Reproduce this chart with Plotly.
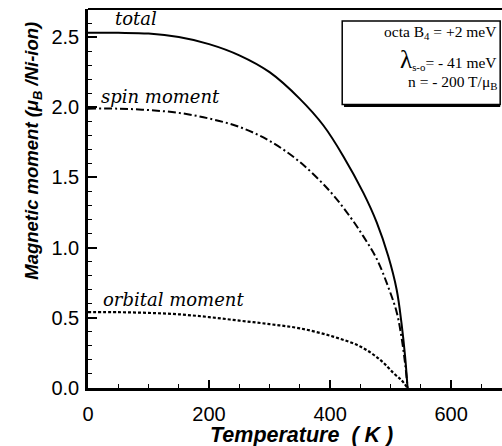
import plotly.graph_objects as go

# Data
T_total = [0, 50, 100, 150, 200, 250, 300, 350, 389, 422, 455, 477, 496, 510, 518, 524, 528]
M_total = [2.53, 2.53, 2.525, 2.50, 2.45, 2.37, 2.25, 2.06, 1.87, 1.65, 1.39, 1.18, 0.94, 0.70, 0.46, 0.22, 0.0]

T_spin = [0, 50, 100, 150, 200, 250, 300, 350, 400, 433, 455, 477, 496, 510, 518, 524, 528]
M_spin = [1.99, 1.99, 1.98, 1.96, 1.92, 1.86, 1.76, 1.61, 1.40, 1.22, 1.08, 0.92, 0.72, 0.54, 0.36, 0.17, 0.0]

T_orb = [0, 50, 100, 150, 200, 250, 300, 350, 405, 450, 483, 505, 518, 528]
M_orb = [0.54, 0.54, 0.535, 0.525, 0.505, 0.48, 0.455, 0.425, 0.366, 0.295, 0.20, 0.105, 0.055, 0.0]

x_ticks = [0, 200, 400, 600]
y_ticks = [0.0, 0.5, 1.0, 1.5, 2.0, 2.5]

fig = go.Figure()
fig.add_trace(go.Scatter(x=T_total, y=M_total, mode="lines",
                         line=dict(color="black", width=2, shape="spline"), showlegend=False))
fig.add_trace(go.Scatter(x=T_spin, y=M_spin, mode="lines",
                         line=dict(color="black", width=2, dash="8px,3px,2px,3px", shape="spline"), showlegend=False))
fig.add_trace(go.Scatter(x=T_orb, y=M_orb, mode="lines",
                         line=dict(color="black", width=2.2, dash="3px,2px", shape="spline"), showlegend=False))

tickfont = dict(family="Liberation Sans, Arial", size=20, color="black")
fig.update_xaxes(range=[0, 684], tickvals=x_ticks, ticktext=[str(v) for v in x_ticks],
                 ticks="inside", ticklen=8, tickwidth=1.5, tickcolor="black", ticklabelstandoff=6,
                 minor=dict(dtick=50, ticks="inside", ticklen=4, tickwidth=1, tickcolor="black"),
                 showline=True, linecolor="black", linewidth=2.5, mirror=False,
                 showgrid=False, zeroline=False, tickfont=tickfont)
fig.update_yaxes(range=[0, 2.7], tickvals=y_ticks, ticktext=["%.1f" % v for v in y_ticks],
                 ticks="inside", ticklen=9, tickwidth=1.5, tickcolor="black", ticklabelstandoff=2,
                 minor=dict(dtick=0.1, ticks="inside", ticklen=4, tickwidth=1, tickcolor="black"),
                 showline=True, linecolor="black", linewidth=2.5, mirror=False,
                 showgrid=False, zeroline=False, tickfont=tickfont)

# top frame line
fig.add_shape(type="line", xref="paper", yref="paper", x0=0, x1=1, y0=1, y1=1,
              line=dict(color="black", width=2))

# axis titles
fig.add_annotation(xref="paper", yref="paper", x=-0.1667, y=0.626, textangle=-90, showarrow=False,
                   text="<b><i>Magnetic moment (μ<sub>B</sub> /Ni-ion)</i></b>",
                   font=dict(family="Liberation Sans, Arial", size=18.5, color="black"))
fig.add_annotation(xref="paper", yref="paper", x=0.516, y=-0.124, showarrow=False,
                   xanchor="center", yanchor="middle",
                   text="<b><i>Temperature&nbsp;&nbsp;(&nbsp;K&nbsp;)</i></b>",
                   font=dict(family="Liberation Sans, Arial", size=21.5, color="black"))

# curve labels
serif_it = dict(family="DejaVu Serif", size=18, color="black")
fig.add_annotation(x=42, y=2.54, xanchor="left", yanchor="bottom", showarrow=False,
                   text="<i>total</i>", font=serif_it)
fig.add_annotation(x=18, y=1.99, xanchor="left", yanchor="bottom", showarrow=False,
                   text="<i>spin moment</i>", font=serif_it)
fig.add_annotation(x=22, y=0.54, xanchor="left", yanchor="bottom", showarrow=False,
                   text="<i>orbital moment</i>", font=serif_it)

# parameter box
fig.add_shape(type="rect", xref="x", yref="y", x0=420, x1=681, y0=2.02, y1=2.614,
              line=dict(color="black", width=1.5), fillcolor="white")
fig.add_shape(type="line", xref="x", yref="y", x0=423, x1=681, y0=2.01, y1=2.01,
              line=dict(color="black", width=2.5))
boxfont = dict(family="Liberation Serif, DejaVu Serif", size=15.5, color="black")
fig.add_annotation(x=679, y=2.536, xanchor="right", showarrow=False,
                   text="octa B<sub>4</sub> = +2 meV", font=boxfont)
fig.add_annotation(x=679, y=2.343, xanchor="right", showarrow=False,
                   text="<span style='font-size:25px'>λ</span><sub>s-o</sub>= - 41 meV", font=boxfont)
fig.add_annotation(x=679, y=2.179, xanchor="right", showarrow=False,
                   text="n = - 200 T/μ<sub>B</sub>", font=boxfont)

fig.update_layout(width=502, height=446, margin=dict(l=88, r=0, t=9, b=58),
                  paper_bgcolor="white", plot_bgcolor="white")
fig.write_html("out.html", config={"displayModeBar": False},
               post_script="document.body.style.margin='0px';document.body.style.overflow='hidden';")
